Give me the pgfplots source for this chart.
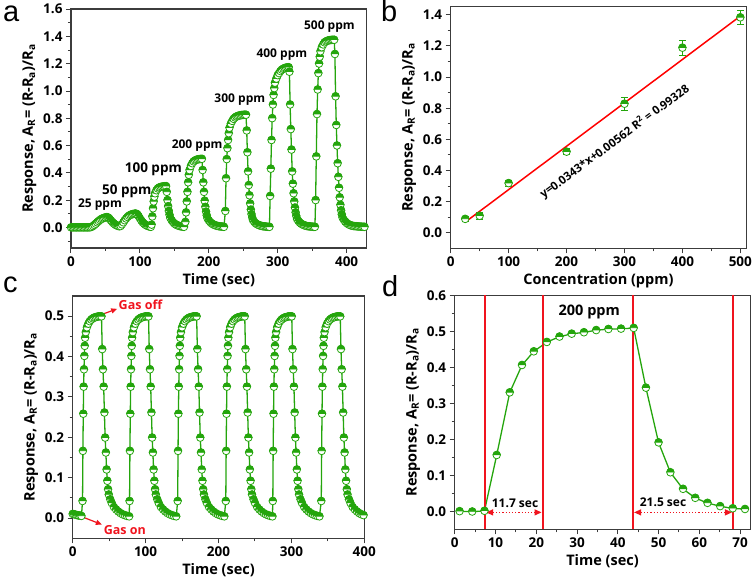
\documentclass[border=0pt]{standalone}
\usepackage{fontspec}
\setmainfont{Open Sans}
\newfontfamily\arialfont{Liberation Sans}
\usepackage{pgfplots}
\usepackage{pgfplotstable}
\pgfplotsset{compat=1.18}
\usetikzlibrary{arrows.meta}
\definecolor{mygreen}{RGB}{36,165,12}
\definecolor{myred}{RGB}{240,20,30}
\definecolor{axgray}{RGB}{60,60,60}

\pgfdeclareplotmark{halfgreen}{%
  \pgfpathcircle{\pgfpointorigin}{\pgfplotmarksize}%
  \pgfsetfillcolor{white}%
  \pgfusepathqfillstroke
  \pgfpathmoveto{\pgfqpoint{-\pgfplotmarksize}{0.35pt}}%
  \pgfpatharc{180}{0}{\pgfplotmarksize}%
  \pgfpathclose
  \pgfsetfillcolor{mygreen}%
  \pgfusepathqfillstroke
}

\pgfplotsset{
 panel/.style={
   scale only axis,
   anchor=south west,
   axis line style={axgray, line width=1.2pt},
   tick align=outside,
   xtick pos=bottom, ytick pos=left,
   major tick length=5pt, minor tick length=3pt,
   every tick/.style={axgray, line width=1pt},
   ticklabel style={font=\bfseries\fontsize{13.5}{14}\selectfont},
   /pgf/number format/assume math mode=true,
   label style={font=\bfseries\fontsize{14.5}{16}\selectfont},
   yticklabel style={/pgf/number format/.cd, fixed, fixed zerofill, precision=1},
   ylabel={Response, A\textsubscript{R}= (R-R\textsubscript{a})/R\textsubscript{a}},
 },
 dat/.style={mygreen, line width=1.3pt, mark=halfgreen, mark size=3.7pt,
   mark options={draw=mygreen, line width=0.8pt, solid}},
}

\pgfplotstableread{
t v
0 0.000
2 0.000
4 0.000
6 0.000
8 0.000
10 0.000
12 0.000
14 0.000
16 0.000
18 0.000
20 0.000
22 0.000
24 0.000
26 0.000
28 0.001
30 0.004
32 0.010
34 0.018
36 0.027
38 0.037
40 0.046
42 0.054
44 0.061
46 0.066
48 0.070
50 0.073
52 0.075
54 0.072
56 0.062
58 0.050
60 0.039
62 0.029
64 0.021
66 0.015
68 0.011
70 0.008
72 0.010
74 0.022
76 0.037
78 0.052
80 0.065
82 0.076
84 0.085
86 0.091
88 0.095
90 0.098
92 0.100
94 0.101
96 0.097
98 0.083
100 0.066
102 0.050
104 0.037
106 0.027
108 0.019
110 0.013
112 0.009
114 0.006
116 0.004
117 0.020
118 0.080
119 0.140
120 0.190
121 0.225
122 0.250
124 0.272
126 0.285
128 0.292
130 0.296
132 0.298
134 0.300
136 0.301
138 0.302
139 0.260
140 0.200
141 0.155
142 0.120
143 0.092
144 0.070
146 0.052
148 0.039
150 0.029
152 0.021
154 0.016
156 0.012
158 0.009
160 0.007
162 0.005
164 0.004
166 0.040
167 0.110
168 0.190
169 0.260
170 0.330
171 0.385
172 0.420
174 0.450
176 0.470
178 0.483
180 0.490
182 0.495
184 0.498
186 0.500
188 0.501
190 0.502
191 0.420
192 0.330
193 0.260
194 0.195
195 0.150
196 0.115
197 0.088
198 0.067
200 0.051
202 0.039
204 0.030
206 0.023
208 0.018
210 0.014
212 0.011
214 0.009
216 0.007
218 0.006
220 0.005
222 0.004
224 0.120
225 0.360
226 0.500
227 0.580
228 0.640
229 0.690
230 0.730
232 0.760
234 0.780
236 0.795
238 0.805
240 0.812
242 0.816
244 0.819
246 0.821
248 0.823
250 0.824
252 0.825
254 0.825
255 0.710
256 0.550
257 0.410
258 0.310
259 0.235
260 0.175
261 0.130
262 0.097
263 0.072
264 0.054
266 0.040
268 0.030
270 0.023
272 0.018
274 0.014
276 0.011
278 0.009
280 0.007
282 0.006
284 0.005
286 0.004
288 0.004
289 0.230
290 0.430
291 0.640
292 0.800
293 0.900
294 0.970
295 1.020
296 1.060
298 1.090
300 1.115
302 1.130
304 1.145
306 1.155
308 1.162
310 1.167
312 1.170
314 1.172
316 1.173
317 1.140
318 0.900
319 0.720
320 0.570
321 0.410
322 0.320
323 0.250
324 0.190
325 0.145
326 0.110
327 0.083
328 0.062
330 0.047
332 0.035
334 0.027
336 0.021
338 0.016
340 0.013
342 0.010
344 0.008
346 0.007
348 0.006
350 0.005
352 0.004
354 0.004
355 0.200
356 0.520
357 0.830
358 1.010
359 1.130
360 1.200
361 1.250
362 1.290
364 1.320
366 1.340
368 1.355
370 1.362
372 1.367
374 1.370
376 1.372
378 1.373
380 1.374
382 1.374
383 1.270
384 0.960
385 0.750
386 0.600
387 0.470
388 0.370
389 0.290
390 0.220
391 0.165
392 0.125
393 0.095
394 0.072
396 0.055
398 0.042
400 0.032
402 0.025
404 0.019
406 0.015
408 0.012
410 0.010
412 0.009
414 0.008
416 0.007
418 0.006
420 0.005
422 0.005
424 0.004
426 0.004
}\dataA

\pgfplotstableread{
t v
0 0.010
2 0.009
4 0.008
6 0.007
8 0.006
10 0.006
12 0.005
13.5 0.042
14 0.166
14.5 0.258
15 0.325
15.5 0.368
16 0.401
16.5 0.426
17 0.446
18 0.460
19.5 0.472
21.5 0.481
23.5 0.487
25.5 0.491
27.5 0.494
29.5 0.496
31.5 0.497
33.5 0.498
35.5 0.499
37.5 0.499
39.5 0.499
40.5 0.418
41.5 0.368
42.5 0.325
43.5 0.261
44.5 0.199
45.5 0.162
46.5 0.120
47.5 0.092
48.5 0.071
49.5 0.058
51.5 0.046
53.5 0.037
56.5 0.027
59.5 0.021
62.5 0.016
65.5 0.012
68.5 0.009
71.5 0.007
74.5 0.005
77.5 0.004
78 0.042
78.5 0.166
79 0.258
79.5 0.325
80 0.368
80.5 0.401
81 0.426
81.5 0.446
82.5 0.460
84 0.472
86 0.481
88 0.487
90 0.491
92 0.494
94 0.496
96 0.497
98 0.498
100 0.499
102 0.499
104 0.499
105 0.418
106 0.368
107 0.325
108 0.261
109 0.199
110 0.162
111 0.120
112 0.092
113 0.071
114 0.058
116 0.046
118 0.037
121 0.027
124 0.021
127 0.016
130 0.012
133 0.009
136 0.007
139 0.005
142 0.004
144 0.042
144.5 0.166
145 0.258
145.5 0.325
146 0.368
146.5 0.401
147 0.426
147.5 0.446
148.5 0.460
150 0.472
152 0.481
154 0.487
156 0.491
158 0.494
160 0.496
162 0.497
164 0.498
166 0.499
168 0.499
170 0.499
171 0.418
172 0.368
173 0.325
174 0.261
175 0.199
176 0.162
177 0.120
178 0.092
179 0.071
180 0.058
182 0.046
184 0.037
187 0.027
190 0.021
193 0.016
196 0.012
199 0.009
202 0.007
205 0.005
208 0.004
210 0.042
210.5 0.166
211 0.258
211.5 0.325
212 0.368
212.5 0.401
213 0.426
213.5 0.446
214.5 0.460
216 0.472
218 0.481
220 0.487
222 0.491
224 0.494
226 0.496
228 0.497
230 0.498
232 0.499
234 0.499
236 0.499
237 0.418
238 0.368
239 0.325
240 0.261
241 0.199
242 0.162
243 0.120
244 0.092
245 0.071
246 0.058
248 0.046
250 0.037
253 0.027
256 0.021
259 0.016
262 0.012
265 0.009
268 0.007
271 0.005
274 0.004
274.5 0.042
275 0.166
275.5 0.258
276 0.325
276.5 0.368
277 0.401
277.5 0.426
278 0.446
279 0.460
280.5 0.472
282.5 0.481
284.5 0.487
286.5 0.491
288.5 0.494
290.5 0.496
292.5 0.497
294.5 0.498
296.5 0.499
298.5 0.499
300.5 0.499
301.5 0.418
302.5 0.368
303.5 0.325
304.5 0.261
305.5 0.199
306.5 0.162
307.5 0.120
308.5 0.092
309.5 0.071
310.5 0.058
312.5 0.046
314.5 0.037
317.5 0.027
320.5 0.021
323.5 0.016
326.5 0.012
329.5 0.009
332.5 0.007
335.5 0.005
338.5 0.004
341 0.042
341.5 0.166
342 0.258
342.5 0.325
343 0.368
343.5 0.401
344 0.426
344.5 0.446
345.5 0.460
347 0.472
349 0.481
351 0.487
353 0.491
355 0.494
357 0.496
359 0.497
361 0.498
363 0.499
365 0.499
367 0.499
368 0.418
369 0.368
370 0.325
371 0.261
372 0.199
373 0.162
374 0.120
375 0.092
376 0.071
377 0.058
379 0.046
381 0.037
384 0.027
387 0.021
390 0.016
393 0.012
396 0.009
399 0.007
402 0.005
405 0.004
}\dataC

\pgfplotstableread{
t v
1.2 0.000
4.3 -0.001
7.3 0.001
10.3 0.156
13.5 0.330
16.5 0.406
19.4 0.444
22.6 0.470
25.7 0.485
28.7 0.493
31.7 0.497
34.7 0.503
37.7 0.506
40.8 0.507
43.9 0.509
46.9 0.343
50.0 0.191
52.9 0.108
56.0 0.062
59.0 0.037
62.0 0.023
65.1 0.014
68.2 0.008
71.2 0.006
}\dataD

\begin{document}
\begin{tikzpicture}
\path[use as bounding box] (0pt,0pt) rectangle (756pt,582pt);

% panel letters
\node[anchor=base west, inner sep=0pt, font=\arialfont\fontsize{29}{30}\selectfont] at (3pt,560pt) {a};
\node[anchor=base west, inner sep=0pt, font=\arialfont\fontsize{29}{30}\selectfont] at (381pt,560pt) {b};
\node[anchor=base west, inner sep=0pt, font=\arialfont\fontsize{29}{30}\selectfont] at (3pt,289pt) {c};
\node[anchor=base west, inner sep=0pt, font=\arialfont\fontsize{29}{30}\selectfont] at (382pt,285pt) {d};

% ---------------- panel a
\begin{axis}[panel, at={(71pt,334pt)}, width=295.6pt, height=238.9pt,
  xmin=0, xmax=429, ymin=-0.15, ymax=1.6,
  xtick={0,100,200,300,400}, minor xtick={50,150,250,350},
  ytick={0,0.2,0.4,0.6,0.8,1.0,1.2,1.4,1.6},
  minor ytick={-0.1,0.1,0.3,0.5,0.7,0.9,1.1,1.3,1.5},
  xlabel={Time (sec)}]
\addplot[dat] table[x=t,y=v] {\dataA};
\node[font=\bfseries\fontsize{12}{12}\selectfont] at (axis cs:42,0.166) {25 ppm};
\node[font=\bfseries\fontsize{13.5}{13.5}\selectfont] at (axis cs:81,0.264) {50 ppm};
\node[font=\bfseries\fontsize{13.5}{13.5}\selectfont] at (axis cs:119.5,0.428) {100 ppm};
\node[font=\bfseries\fontsize{12}{12}\selectfont] at (axis cs:183,0.60) {200 ppm};
\node[font=\bfseries\fontsize{12}{12}\selectfont] at (axis cs:245,0.935) {300 ppm};
\node[font=\bfseries\fontsize{12}{12}\selectfont] at (axis cs:306,1.27) {400 ppm};
\node[font=\bfseries\fontsize{12}{12}\selectfont] at (axis cs:375,1.47) {500 ppm};
\end{axis}

% ---------------- panel b
\begin{axis}[panel, at={(450.7pt,333.7pt)}, width=295.6pt, height=241.7pt,
  xmin=0, xmax=510.3, ymin=-0.1, ymax=1.453,
  xtick={0,100,200,300,400,500}, minor xtick={50,150,250,350,450},
  ytick={0,0.2,0.4,0.6,0.8,1.0,1.2,1.4},
  minor ytick={0.1,0.3,0.5,0.7,0.9,1.1,1.3},
  xlabel={Concentration (ppm)}]
\addplot[only marks, mygreen, mark=halfgreen, mark size=3.7pt,
  mark options={draw=mygreen, line width=0.8pt},
  error bars/.cd, y dir=both, y explicit,
  error mark=|,
  error bar style={mygreen, line width=1pt},
  error mark options={mygreen, mark size=3.5pt, line width=1pt}]
 coordinates {
 (25,0.088) +- (0,0.018)
 (50,0.108) +- (0,0.020)
 (100,0.318) +- (0,0.018)
 (200,0.520) +- (0,0.020)
 (300,0.828) +- (0,0.043)
 (400,1.188) +- (0,0.050)
 (500,1.383) +- (0,0.047)
 };
\addplot[red, line width=1.5pt] coordinates {(25,0.068) (500,1.392)};
\node[rotate=36.5, font=\bfseries\fontsize{11.5}{12}\selectfont] at (axis cs:283,0.585) {y=0.0343*x+0.00562 R\textsuperscript{2} = 0.99328};
\end{axis}

% ---------------- panel c
\begin{axis}[panel, at={(72.7pt,43.7pt)}, width=291.6pt, height=242.4pt,
  xmin=0, xmax=400, ymin=-0.05, ymax=0.55,
  xtick={0,100,200,300,400}, minor xtick={50,150,250,350},
  ytick={0,0.1,0.2,0.3,0.4,0.5},
  minor ytick={0.05,0.15,0.25,0.35,0.45},
  xlabel={Time (sec)}]
\addplot[dat] table[x=t,y=v] {\dataC};
\draw[myred, line width=1.2pt, -{Triangle[length=6pt,width=5pt]}] (axis cs:39.8,0.504) -- (axis cs:61,0.518);
\node[anchor=west, inner sep=1pt, text=myred, font=\bfseries\fontsize{12.5}{13}\selectfont] at (axis cs:61.5,0.529) {Gas off};
\draw[myred, line width=1.2pt, -{Triangle[length=6pt,width=5pt]}] (axis cs:14.6,0.002) -- (axis cs:40,-0.016);
\node[anchor=west, inner sep=1pt, text=myred, font=\bfseries\fontsize{12.5}{13}\selectfont] at (axis cs:41,-0.029) {Gas on};
\end{axis}

% ---------------- panel d
\begin{axis}[panel, at={(454.7pt,52.7pt)}, width=295.6pt, height=234pt,
  xmin=0, xmax=72.5, ymin=-0.05, ymax=0.6,
  xtick={0,10,20,30,40,50,60,70}, minor xtick={5,15,25,35,45,55,65},
  ytick={0,0.1,0.2,0.3,0.4,0.5,0.6},
  minor ytick={0.05,0.15,0.25,0.35,0.45,0.55},
  xlabel={Time (sec)}]
\addplot[dat] table[x=t,y=v] {\dataD};
\addplot[myred, line width=1.6pt] coordinates {(7.4,-0.05) (7.4,0.6)};
\addplot[myred, line width=1.6pt] coordinates {(21.6,-0.05) (21.6,0.6)};
\addplot[myred, line width=1.6pt] coordinates {(43.7,-0.05) (43.7,0.6)};
\addplot[myred, line width=1.6pt] coordinates {(68.3,-0.05) (68.3,0.6)};
\draw[myred, line width=1.2pt, dotted, {Triangle[length=7pt,width=6pt]}-{Triangle[length=7pt,width=6pt]}] (axis cs:7.7,-0.003) -- (axis cs:21.3,-0.003);
\draw[myred, line width=1.2pt, dotted, {Triangle[length=7pt,width=6pt]}-{Triangle[length=7pt,width=6pt]}] (axis cs:44.0,-0.003) -- (axis cs:68.0,-0.003);
\node[font=\bfseries\fontsize{12}{12}\selectfont] at (axis cs:14.8,0.022) {11.7 sec};
\node[font=\bfseries\fontsize{12}{12}\selectfont] at (axis cs:51.1,0.026) {21.5 sec};
\node[font=\bfseries\fontsize{14.5}{15}\selectfont] at (axis cs:33,0.554) {200 ppm};
\end{axis}
\end{tikzpicture}
\end{document}
